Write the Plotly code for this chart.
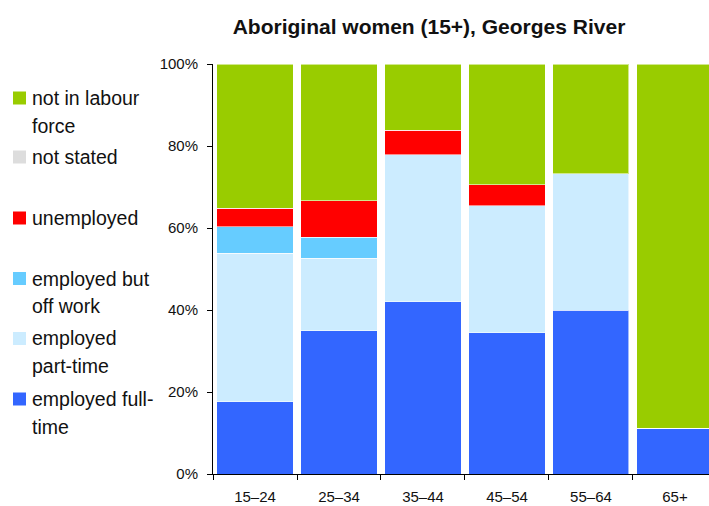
import plotly.graph_objects as go

# age groups and the share (%) of women in each labour force group
age_groups = ["15–24", "25–34", "35–44", "45–54", "55–64", "65+"]
full_time = [17.6, 35.0, 42.0, 34.5, 40.0, 11.1]
part_time = [36.2, 17.6, 35.9, 30.9, 33.2, 0.0]
off_work = [6.5, 5.2, 0.0, 0.0, 0.0, 0.0]
unemployed = [4.5, 8.8, 6.0, 5.1, 0.0, 0.0]
not_stated = [0.0, 0.0, 0.0, 0.0, 0.0, 0.0]
not_in_lf = [35.2, 33.4, 16.1, 29.5, 26.8, 88.9]

y_ticks = [0, 20, 40, 60, 80, 100]
y_tick_labels = [f"{v}%" for v in y_ticks]

# bottom -> top stacking order
series = [
    ("employed full-time", full_time, "#3366FF", ["employed full-", "time"]),
    ("employed part-time", part_time, "#CCECFF", ["employed", "part-time"]),
    ("employed but off work", off_work, "#66CCFF", ["employed but", "off work"]),
    ("unemployed", unemployed, "#FF0000", ["unemployed"]),
    ("not stated", not_stated, "#DDDDDD", ["not stated"]),
    ("not in labour force", not_in_lf, "#99CC00", ["not in labour", "force"]),
]

FONT = "Liberation Sans, Arial, sans-serif"
W, H = 709, 506
PL, PR, PT, PB = 213, 709, 64, 474   # plot area in pixels


def px_x(px):
    return (px - PL) / (PR - PL)


def px_y(py):
    return (PB - py) / (PB - PT)


fig = go.Figure()
for name, vals, color, _ in series:
    fig.add_trace(go.Bar(
        x=age_groups, y=vals, name=name,
        marker=dict(color=color, line=dict(color="rgba(255,255,255,0.55)", width=1)),
        showlegend=False,
    ))

# hand-placed legend on the left (top item first)
legend_rows = [98, 157, 218, 278.5, 338.5, 399]
shapes = []
annotations = []
for (name, _, color, lines), cy in zip(series[::-1], legend_rows):
    shapes.append(dict(
        type="rect", xref="paper", yref="paper",
        x0=px_x(13), x1=px_x(26), y0=px_y(cy + 6.5), y1=px_y(cy - 6.5),
        fillcolor=color, line=dict(width=0),
    ))
    for i, ln in enumerate(lines):
        annotations.append(dict(
            text=ln, xref="paper", yref="paper",
            x=px_x(30), y=px_y(cy + i * 27.5), xanchor="left", yanchor="middle",
            showarrow=False, font=dict(family=FONT, size=19.5, color="#111111"),
        ))

fig.update_layout(
    width=W, height=H,
    margin=dict(l=PL, r=W - PR, t=PT, b=H - PB),
    barmode="stack", bargap=0.095,
    plot_bgcolor="white", paper_bgcolor="white",
    font=dict(family=FONT, size=15, color="#111111"),
    title=dict(
        text="<b>Aboriginal women (15+), Georges River</b>",
        x=429 / W, xanchor="center", xref="container",
        y=1 - 27 / H, yanchor="middle",
        font=dict(family=FONT, size=21, color="#111111"),
    ),
    xaxis=dict(
        type="category", range=[-0.5, 5.405],
        showline=True, linecolor="black", linewidth=1,
        ticks="outside", tickson="boundaries", ticklen=5, tickcolor="black",
        ticklabelstandoff=9,
        showgrid=False, tickfont=dict(size=15),
    ),
    yaxis=dict(
        range=[0, 100], tickvals=y_ticks, ticktext=y_tick_labels,
        showline=True, linecolor="black", linewidth=1,
        ticks="outside", ticklen=5, tickcolor="black",
        ticklabelstandoff=6,
        showgrid=False, zeroline=False, tickfont=dict(size=15),
    ),
    shapes=shapes,
    annotations=annotations,
)

fig.write_html(
    "out.html",
    config={"displayModeBar": False},
    post_script="document.body.style.margin='0';",
)
